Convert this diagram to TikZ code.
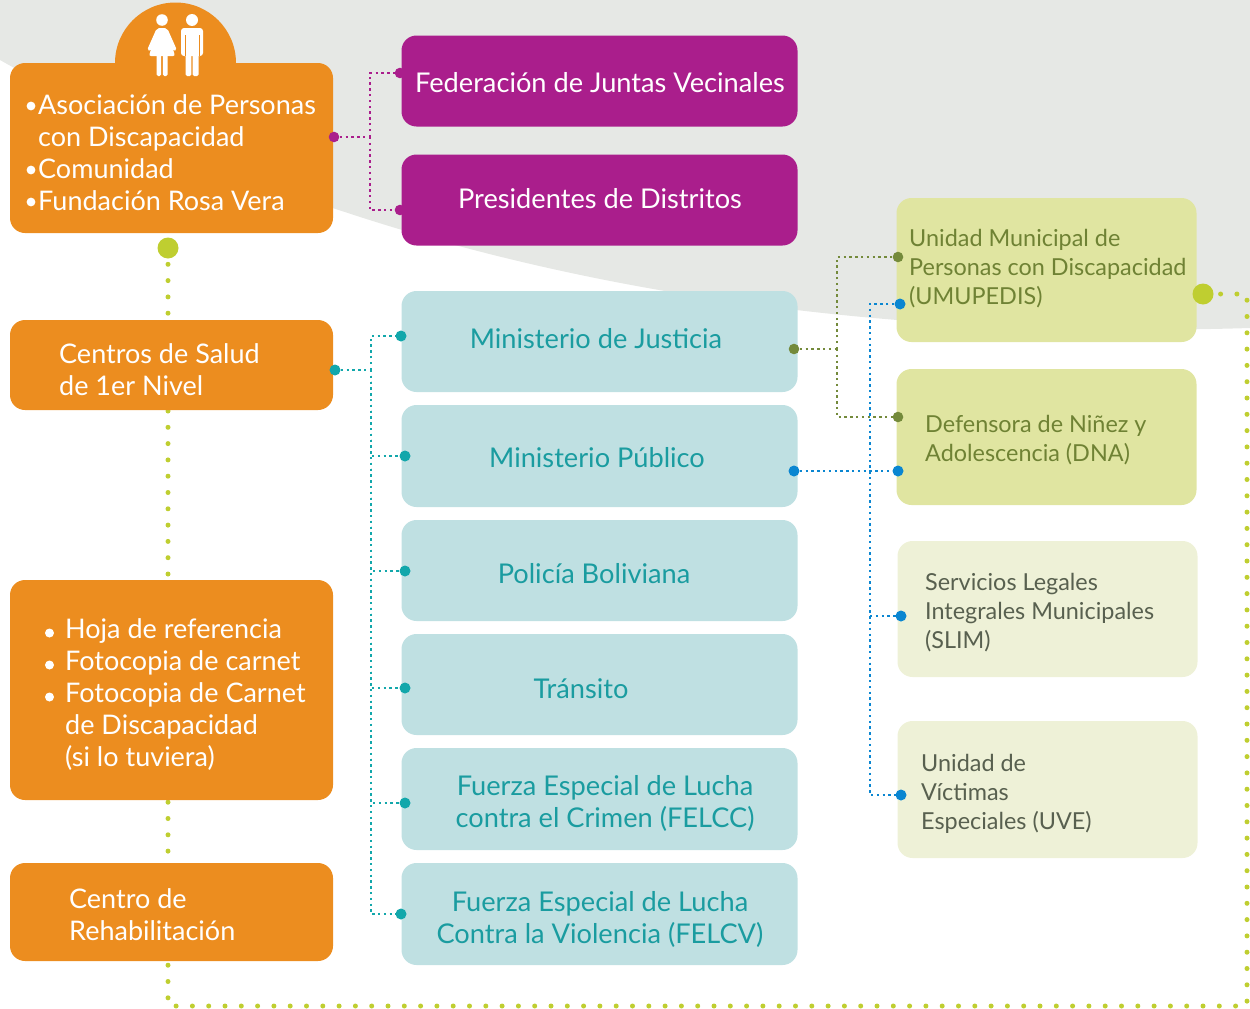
\documentclass[tikz,border=0pt]{standalone}
\usepackage{fontspec}
\setmainfont{Lato}
\definecolor{bggray}{HTML}{E6E8E5}
\definecolor{orng}{HTML}{EC8D1F}
\definecolor{magen}{HTML}{AA1E8C}
\definecolor{tealbox}{HTML}{BFE0E2}
\definecolor{tealtxt}{HTML}{1A9CA0}
\definecolor{tealdot}{HTML}{12A7AB}
\definecolor{olivebox}{HTML}{E0E5A1}
\definecolor{olivetxt}{HTML}{6F8234}
\definecolor{olivedot}{HTML}{748A3B}
\definecolor{palebox}{HTML}{EEF1D7}
\definecolor{paletxt}{HTML}{58604F}
\definecolor{bluedot}{HTML}{0A86D1}
\definecolor{limec}{HTML}{BFCE30}
\begin{document}
\begin{tikzpicture}[x=1pt,y=-1pt,
  box/.style={rounded corners=15pt, inner sep=0pt, draw=none},
  obox/.style={box, fill=orng, minimum width=323pt},
  mbox/.style={box, fill=magen, minimum width=396pt, minimum height=91pt},
  tbox/.style={box, fill=tealbox, minimum width=396pt},
  gbox/.style={box, fill=olivebox, minimum width=300pt},
  pbox/.style={box, fill=palebox, minimum width=300pt, minimum height=136pt},
  conn/.style={line width=2.4pt, dash pattern=on 2.4pt off 3.4pt},
  limeline/.style={limec, line width=5pt, line cap=round, dash pattern=on 0pt off 16.3pt},
  wtxt/.style={inner sep=0pt, align=left, anchor=west, text=white, font=\fontsize{27}{32}\selectfont},
  ctxt/.style={inner sep=0pt, align=center, font=\fontsize{27.2}{32}\selectfont},
  rtxt/.style={inner sep=0pt, align=left, anchor=west, font=\fontsize{23.4}{29}\selectfont},
  bigdot/.style={circle, fill=limec, inner sep=0pt, minimum size=21pt},
]
\useasboundingbox (0,0) rectangle (1250,1009);
% background
\fill[bggray] (0,0) -- (0,60) .. controls (300,230) and (700,345) .. (1250,328) -- (1250,0) -- cycle;

% connection coordinates
\coordinate (asoDotC) at (168,248);
\coordinate (umuDotC) at (1203,294);
\coordinate (lc1) at (168,1006);
\coordinate (lc2) at (1247,1006);
\coordinate (lc3) at (1247,294);
\coordinate (asoR) at (334,137);
\coordinate (mj) at (370,137);
\coordinate (fedL) at (400,73);
\coordinate (presL) at (400,210);
\coordinate (centR) at (335,370);
\coordinate (tj) at (371,370);
\coordinate (justL) at (401,336);
\coordinate (pubL) at (405,456);
\coordinate (polL) at (405,571);
\coordinate (traL) at (405,688);
\coordinate (felccL) at (405,803);
\coordinate (felcvL) at (401,914);
\coordinate (justR) at (794,349);
\coordinate (oj) at (837,349);
\coordinate (umuL1) at (898,257);
\coordinate (dnaL1) at (898,417);
\coordinate (pubR) at (794,471);
\coordinate (dnaL2) at (898,471);
\coordinate (umuL2) at (900,304);
\coordinate (bjb) at (870,795);
\coordinate (slimL) at (901,616);
\coordinate (uveL) at (901,795);

% lime path
\draw[limeline] (asoDotC) -- (lc1) -- (lc2) -- (lc3) -- (umuDotC);
% magenta
\draw[conn, magen] (asoR) -- (mj);
\draw[conn, magen] (mj) |- (fedL);
\draw[conn, magen] (mj) |- (presL);
% teal
\draw[conn, tealdot] (centR) -- (tj);
\foreach \t in {justL,pubL,polL,traL,felccL,felcvL} \draw[conn, tealdot] (tj) |- (\t);
% olive
\draw[conn, olivedot] (justR) -- (oj);
\draw[conn, olivedot] (oj) |- (umuL1);
\draw[conn, olivedot] (oj) |- (dnaL1);
% blue
\draw[conn, bluedot] (pubR) -- (dnaL2);
\draw[conn, bluedot] (umuL2) -| (bjb) -- (uveL);
\draw[conn, bluedot] (bjb |- slimL) -- (slimL);

% boxes
\node[circle, fill=orng, minimum size=121pt, inner sep=0pt] (bump) at (175.5,63) {};
\node[obox, minimum height=170pt] (aso) at (171.5,148) {};
\node[obox, minimum height=90pt] (cent) at (171.5,365) {};
\node[obox, minimum height=220pt] (hoja) at (171.5,690) {};
\node[obox, minimum height=98pt] (rehab) at (171.5,912) {};
\node[mbox] (fed) at (599.5,81) {};
\node[mbox] (pres) at (599.5,200) {};
\node[tbox, minimum height=101pt] (just) at (599.5,341.5) {};
\node[tbox, minimum height=102pt] (pub) at (599.5,456) {};
\node[tbox, minimum height=101pt] (pol) at (599.5,570.5) {};
\node[tbox, minimum height=101pt] (tra) at (599.5,684.5) {};
\node[tbox, minimum height=102pt] (felcc) at (599.5,799) {};
\node[tbox, minimum height=102pt] (felcv) at (599.5,914) {};
\node[gbox, minimum height=144pt] (umu) at (1046.5,270) {};
\node[gbox, minimum height=136pt] (dna) at (1046.5,437) {};
\node[pbox] (slim) at (1047.5,609) {};
\node[pbox, minimum height=137pt] (uve) at (1047.5,789.5) {};

% person icons
\begin{scope}[white]
  \fill (162,20) circle (5.8);
  \fill[rounded corners=2pt] (157,28) -- (167,28) -- (175,56) -- (149,56) -- cycle;
  \draw[line width=3.6pt, line cap=round] (157.5,31) -- (149.5,49);
  \draw[line width=3.6pt, line cap=round] (166.5,31) -- (174.5,49);
  \fill[rounded corners=1.5pt] (156.5,54) rectangle (161.2,76);
  \fill[rounded corners=1.5pt] (162.8,54) rectangle (167.5,76);
  \fill (192,20) circle (6);
  \fill[rounded corners=3pt] (181,28) rectangle (203,56);
  \fill[rounded corners=1.5pt] (185.5,50) rectangle (191.4,76);
  \fill[rounded corners=1.5pt] (192.6,50) rectangle (198.5,76);
\end{scope}
\fill[orng] (184.6,35) rectangle (185.4,56);
\fill[orng] (198.6,35) rectangle (199.4,56);

% bullets
\foreach \y in {106,170,202} \fill[white] (31,\y) circle (4.4);
\foreach \y in {633,665,697} \fill[white] (49.5,\y) circle (4.5);

% dots
\foreach \c in {asoR,fedL,presL} \fill[magen] (\c) circle (5.3);
\foreach \c in {centR,justL,pubL,polL,traL,felccL,felcvL} \fill[tealdot] (\c) circle (5.5);
\foreach \c in {justR,umuL1,dnaL1} \fill[olivedot] (\c) circle (5.3);
\foreach \c in {pubR,dnaL2,umuL2,slimL,uveL} \fill[bluedot] (\c) circle (5.5);
\node[bigdot] (asoDot) at (asoDotC) {};
\node[bigdot] (umuDot) at (umuDotC) {};

% texts
\node[wtxt] (asoT) at (38,153) {Asociación de Personas\\con Discapacidad\\Comunidad\\Fundación Rosa Vera};
\node[wtxt] (centT) at (59,370) {Centros de Salud\\de 1er Nivel};
\node[wtxt] (hojaT) at (65,695) {Hoja de referencia\\Fotocopia de carnet\\Fotocopia de Carnet\\de Discapacidad\\(si lo tuviera)};
\node[wtxt] (rehabT) at (69,915) {Centro de\\Rehabilitación};
\node[ctxt, text=white] (fedT) at (600,83) {Federación de Juntas Vecinales};
\node[ctxt, text=white] (presT) at (600,199) {Presidentes de Distritos};
\node[ctxt, text=tealtxt] (justT) at (596,339) {Ministerio de Justicia};
\node[ctxt, text=tealtxt] (pubT) at (597,458) {Ministerio Público};
\node[ctxt, text=tealtxt] (polT) at (594,574) {Policía Boliviana};
\node[ctxt, text=tealtxt] (traT) at (581,689) {Tránsito};
\node[ctxt, text=tealtxt] (felccT) at (605,803) {Fuerza Especial de Lucha\\contra el Crimen (FELCC)};
\node[ctxt, text=tealtxt] (felcvT) at (600,919) {Fuerza Especial de Lucha\\Contra la Violencia (FELCV)};
\node[rtxt, text=olivetxt] (umuT) at (909,269) {Unidad Municipal de\\Personas con Discapacidad\\(UMUPEDIS)};
\node[rtxt, text=olivetxt] (dnaT) at (925,440) {Defensora de Niñez y\\Adolescencia (DNA)};
\node[rtxt, text=paletxt] (slimT) at (925,613) {Servicios Legales\\Integrales Municipales\\(SLIM)};
\node[rtxt, text=paletxt] (uveT) at (921,794) {Unidad de\\Víctimas\\Especiales (UVE)};
\end{tikzpicture}
\end{document}
